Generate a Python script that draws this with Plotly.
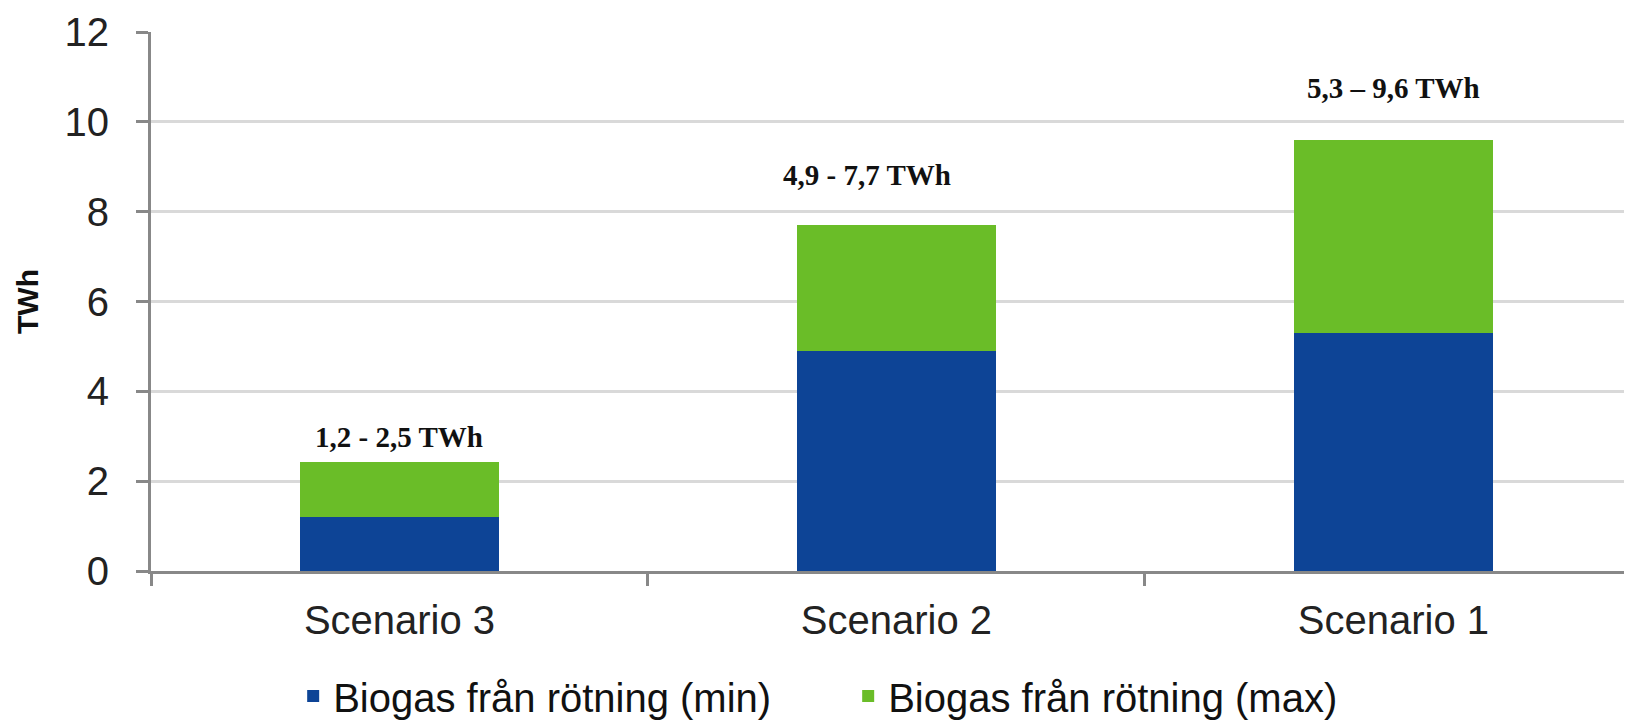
import plotly.graph_objects as go

categories = ["Scenario 3", "Scenario 2", "Scenario 1"]
min_values = [1.2, 4.9, 5.3]
max_totals = [2.42, 7.7, 9.6]
range_labels = ["1,2 - 2,5 TWh", "4,9 - 7,7 TWh", "5,3 – 9,6 TWh"]
label_y = [2.98, 8.82, 10.75]
label_dx = [0.0, -0.06, 0.0]
y_ticks = [0, 2, 4, 6, 8, 10, 12]

extra = [round(t - m, 3) for t, m in zip(max_totals, min_values)]

fig = go.Figure()
fig.add_trace(go.Bar(x=categories, y=min_values, name="Biogas från rötning (min)",
                     marker=dict(color="#0D4496", line=dict(width=0)), width=0.4))
fig.add_trace(go.Bar(x=categories, y=extra, name="Biogas från rötning (max)",
                     marker=dict(color="#6ABD28", line=dict(width=0)), width=0.4))

for i, (txt, yy) in enumerate(zip(range_labels, label_y)):
    fig.add_annotation(x=i + label_dx[i], y=yy, text="<b>" + txt + "</b>", showarrow=False,
                       font=dict(family="Liberation Serif", size=29, color="#111"),
                       xref="x", yref="y")

fig.update_layout(
    barmode="stack",
    width=1624, height=714,
    margin=dict(l=143, r=0, t=24, b=151, autoexpand=False),
    paper_bgcolor="white", plot_bgcolor="white",
    font=dict(family="Liberation Sans", color="#222"),
    showlegend=True,
    legend=dict(orientation="h", x=0.096, xanchor="left", y=-0.232, yanchor="middle",
                font=dict(size=40, family="Liberation Sans", color="#111"),
                entrywidth=510, entrywidthmode="pixels", itemwidth=30,
                traceorder="normal"),
    xaxis=dict(type="category", range=[-0.5, 2.48], tickson="boundaries",
               ticks="outside", ticklen=12, tickwidth=3, tickcolor="#888",
               showline=True, linecolor="#888", linewidth=3, automargin=False,
               ticklabelstandoff=12,
               showgrid=False, tickfont=dict(size=40, color="#222")),
    yaxis=dict(range=[0, 12], tickvals=y_ticks, ticks="outside", ticklen=12,
               tickwidth=3, tickcolor="#888", showline=True, linecolor="#888",
               linewidth=3, showgrid=True, gridcolor="#d9d9d9", gridwidth=3,
               zeroline=False, tickfont=dict(size=40, color="#222"), automargin=False,
               ticklabelstandoff=19,
               title=dict(text="<b>TWh</b>", font=dict(size=30, color="#111"), standoff=18)),
)

fig.write_html("out.html")
